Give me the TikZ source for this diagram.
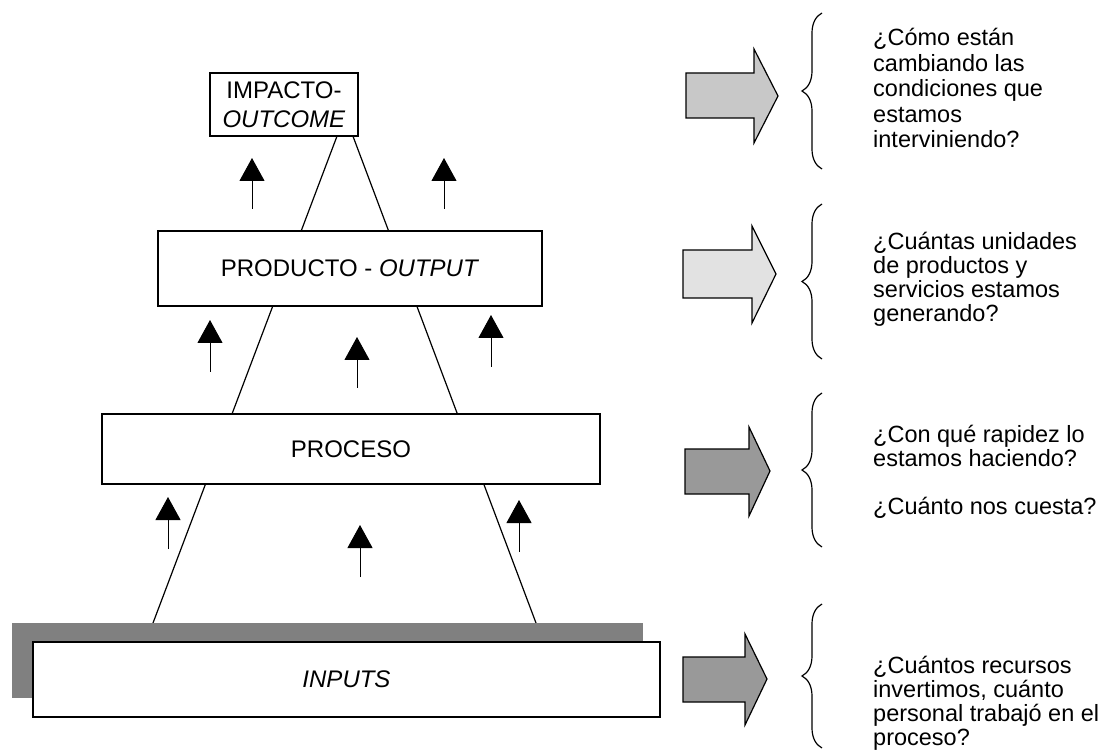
\documentclass[tikz,border=0pt]{standalone}
\usepackage{fontspec}
\setmainfont{Liberation Sans}
\usetikzlibrary{arrows.meta,decorations.pathreplacing}

\definecolor{shadowgray}{HTML}{808080}
\definecolor{arrowlight}{HTML}{C8C8C8}
\definecolor{arrowpale}{HTML}{E2E2E2}
\definecolor{arrowdark}{HTML}{999999}

\tikzset{
  levelbox/.style={draw, line width=1.2pt, fill=white, inner sep=0pt,
    align=center, font=\fontsize{24}{29}\selectfont},
  uparrow/.style={line width=1pt, -{Triangle[width=25pt,length=23pt]}},
  blockarrow/.style={draw, line width=1.2pt, line join=miter},
  qbrace/.style={line width=1.2pt, decorate, decoration={brace, amplitude=20pt}},
  question/.style={anchor=west, inner sep=0pt, align=left,
    font=\fontsize{23.5}{24}\selectfont}
}

\begin{document}
\begin{tikzpicture}[x=1pt,y=-1pt]
\useasboundingbox (0,0) rectangle (1117,751);

% pyramid sides
\coordinate (apex) at (345,115);
\coordinate (baseL) at (153,623);
\coordinate (baseR) at (536,623);
\draw [line width=1.2pt] (apex) -- (baseL);
\draw [line width=1.2pt] (apex) -- (baseR);

% levels
\fill [shadowgray] (12,623) rectangle (643,698);
\node [levelbox, minimum width=627, minimum height=75] (inputs) at (346.5,679.5) {\textit{INPUTS}};
\node [levelbox, minimum width=498, minimum height=70] (proceso) at (351,449) {PROCESO};
\node [levelbox, minimum width=384, minimum height=75] (producto) at (350,268.5) {PRODUCTO - \textit{OUTPUT}};
\node [levelbox, minimum width=148, minimum height=63] (impacto) at (284,104.5) {IMPACTO-\\\textit{OUTCOME}};

% small arrows
\draw [uparrow] (252,209) -- (252,158);
\draw [uparrow] (444,209) -- (444,158);
\draw [uparrow] (210,372) -- (210,320);
\draw [uparrow] (357,388) -- (357,337);
\draw [uparrow] (491,367) -- (491,315);
\draw [uparrow] (168,549) -- (168,497);
\draw [uparrow] (360,577) -- (360,525);
\draw [uparrow] (519,552) -- (519,500);

% block arrows
\draw [blockarrow, fill=arrowlight] (686,73) -- (754,73) -- (754,49) -- (778,96) -- (754,143) -- (754,118) -- (686,118) -- cycle;
\draw [blockarrow, fill=arrowpale] (683,250) -- (752,250) -- (752,226) -- (776,274) -- (752,323) -- (752,298) -- (683,298) -- cycle;
\draw [blockarrow, fill=arrowdark] (685,449) -- (749,449) -- (749,427) -- (770,471) -- (749,516) -- (749,494) -- (685,494) -- cycle;
\draw [blockarrow, fill=arrowdark] (683,657) -- (745,657) -- (745,634) -- (767,679) -- (745,725) -- (745,702) -- (683,702) -- cycle;

% braces
\draw [qbrace] (822,169) -- (822,13);
\draw [qbrace] (822,359) -- (822,204);
\draw [qbrace] (822,547) -- (822,393);
\draw [qbrace] (822,748) -- (822,604);

% questions
\node [question, font=\fontsize{23.5}{25.5}\selectfont] (q1) at (873,88) {¿Cómo están\\cambiando las\\condiciones que\\estamos\\interviniendo?};
\node [question] (q2) at (873,279) {¿Cuántas unidades\\de productos y\\servicios estamos\\generando?};
\node [question] (q3) at (873,472) {¿Con qué rapidez lo\\estamos haciendo?\\[24pt]¿Cuánto nos cuesta?};
\node [question] (q4) at (873,703) {¿Cuántos recursos\\invertimos, cuánto\\personal trabajó en el\\proceso?};
\end{tikzpicture}
\end{document}
